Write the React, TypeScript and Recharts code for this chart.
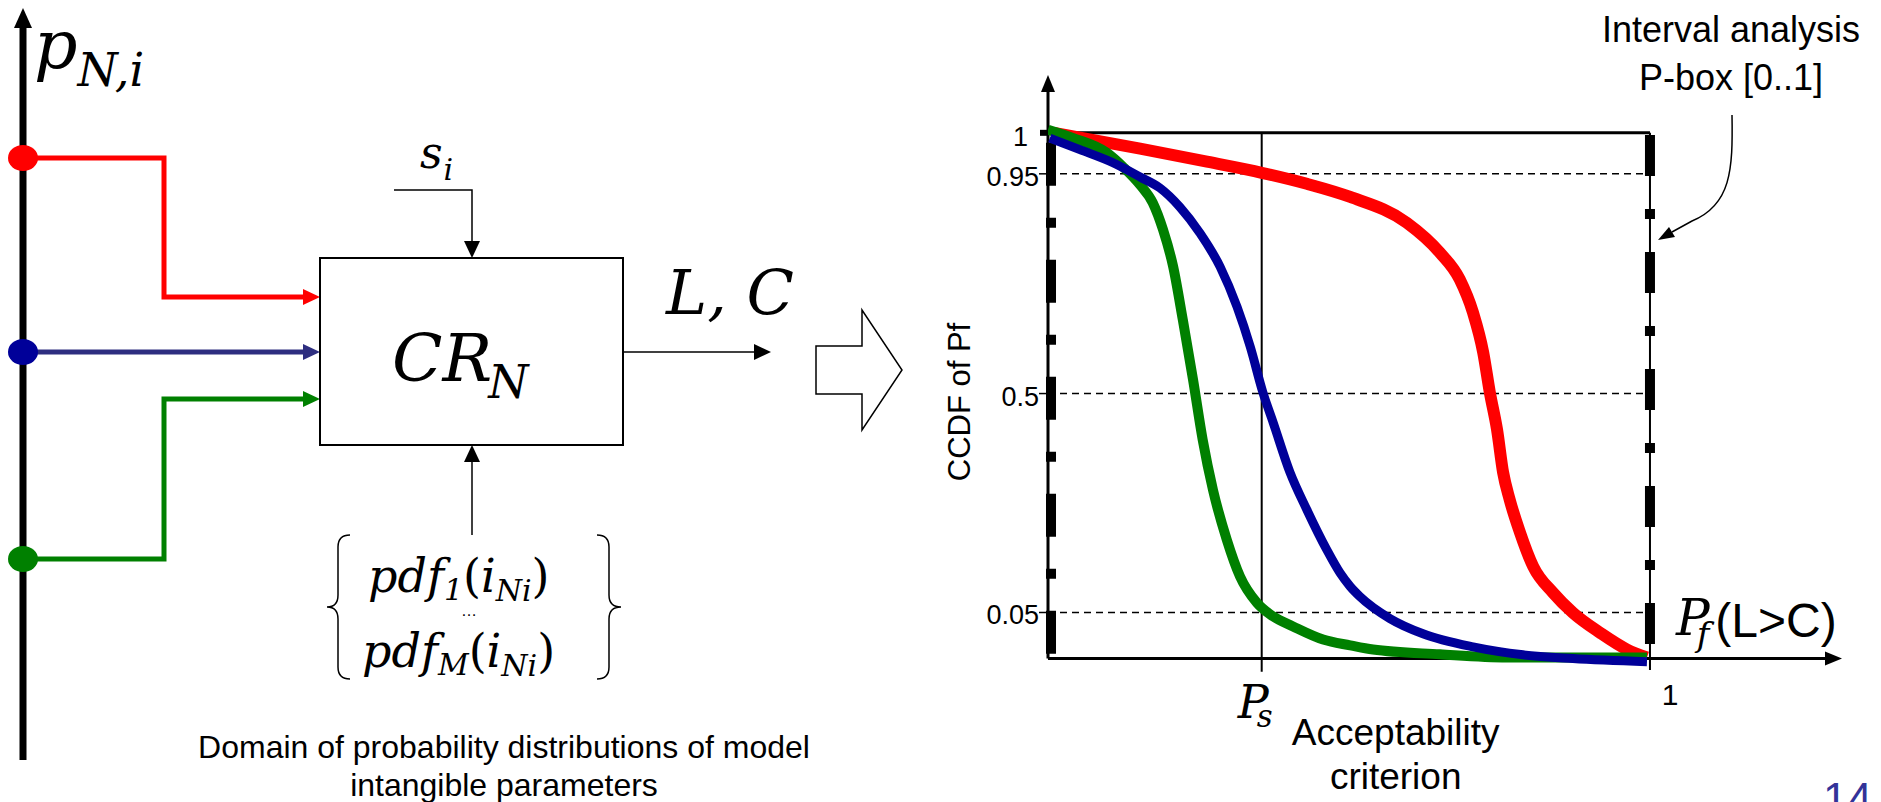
import { LineChart, Line, XAxis, YAxis, ReferenceLine, ReferenceDot } from 'recharts';

// CCDF curves. x = Pf (0..1), y = position on the
// schematic CCDF axis (0 = x axis, 1 = top of the box)
const redCurve = [
  { x: 0.01, y: 1.0 }, { x: 0.153, y: 0.97 }, { x: 0.264, y: 0.945 }, { x: 0.355, y: 0.924 },
  { x: 0.43, y: 0.903 }, { x: 0.502, y: 0.878 }, { x: 0.596, y: 0.829 }, { x: 0.651, y: 0.772 },
  { x: 0.684, y: 0.721 }, { x: 0.706, y: 0.658 }, { x: 0.723, y: 0.582 }, { x: 0.734, y: 0.506 },
  { x: 0.746, y: 0.435 }, { x: 0.756, y: 0.354 }, { x: 0.767, y: 0.302 }, { x: 0.784, y: 0.24 },
  { x: 0.806, y: 0.175 }, { x: 0.839, y: 0.125 }, { x: 0.872, y: 0.087 }, { x: 0.917, y: 0.049 },
  { x: 0.962, y: 0.017 }, { x: 0.995, y: 0.002 },
];

const greenCurve = [
  { x: 0.0, y: 1.006 }, { x: 0.042, y: 0.99 }, { x: 0.098, y: 0.962 }, { x: 0.125, y: 0.935 },
  { x: 0.153, y: 0.901 }, { x: 0.174, y: 0.867 }, { x: 0.191, y: 0.816 }, { x: 0.208, y: 0.745 },
  { x: 0.224, y: 0.644 }, { x: 0.241, y: 0.53 }, { x: 0.257, y: 0.416 }, { x: 0.274, y: 0.321 },
  { x: 0.297, y: 0.226 }, { x: 0.319, y: 0.156 }, { x: 0.347, y: 0.106 }, { x: 0.374, y: 0.08 },
  { x: 0.407, y: 0.061 }, { x: 0.457, y: 0.036 }, { x: 0.502, y: 0.025 }, { x: 0.54, y: 0.017 },
  { x: 0.651, y: 0.008 }, { x: 0.762, y: 0.002 }, { x: 0.872, y: 0.002 }, { x: 0.995, y: 0.002 },
];

const blueCurve = [
  { x: 0.003, y: 0.99 }, { x: 0.053, y: 0.968 }, { x: 0.108, y: 0.943 }, { x: 0.153, y: 0.916 },
  { x: 0.186, y: 0.895 }, { x: 0.219, y: 0.859 }, { x: 0.252, y: 0.81 }, { x: 0.286, y: 0.745 },
  { x: 0.314, y: 0.669 }, { x: 0.336, y: 0.593 }, { x: 0.357, y: 0.506 }, { x: 0.374, y: 0.449 },
  { x: 0.402, y: 0.354 }, { x: 0.43, y: 0.283 }, { x: 0.463, y: 0.207 }, { x: 0.485, y: 0.163 },
  { x: 0.502, y: 0.137 }, { x: 0.518, y: 0.118 }, { x: 0.568, y: 0.076 }, { x: 0.623, y: 0.047 },
  { x: 0.706, y: 0.022 }, { x: 0.789, y: 0.007 }, { x: 0.872, y: 0.0 }, { x: 0.995, y: -0.006 },
];

// y axis ticks (positions on the schematic axis) and their labels
const yTickPos = [0.0875, 0.504, 0.922, 1];
const yTickLabels = ['0.05', '0.5', '0.95', '1'];
const guideLevels = [0.0875, 0.504, 0.922];

const psValue = 0.355;
const xTicks = [psValue, 1];

const X_MAX = 1.319;
const Y_MAX = 1.11;
const Y_MIN = -0.02;

const SANS = '"Liberation Sans", Arial, sans-serif';
const MATH = '"DejaVu Serif", serif';

function YTick({ x, y, payload }: any) {
  const idx = yTickPos.findIndex((v) => Math.abs(v - payload.value) < 1e-6);
  const label = yTickLabels[idx];
  if (payload.value === 1) {
    return (
      <g>
        <rect x={x - 8} y={y - 3} width={8} height={6} fill="#000" />
        <text x={x - 20} y={y + 4} textAnchor="end" dominantBaseline="central" fontFamily={SANS} fontSize={27} fill="#000">
          {label}
        </text>
      </g>
    );
  }
  return (
    <g>
      <line x1={x - 9} x2={x} y1={y} y2={y} stroke="#000" strokeWidth={1.5} />
      <text x={x - 9} y={y + 3} textAnchor="end" dominantBaseline="central" fontFamily={SANS} fontSize={27} fill="#000">
        {label}
      </text>
    </g>
  );
}

function XTick({ x, y, payload }: any) {
  if (payload.value === 1) {
    return (
      <text x={x + 20} y={y + 36} textAnchor="middle" fontFamily={SANS} fontSize={30} fill="#000">1</text>
    );
  }
  return (
    <g>
      <text x={x - 24} y={y + 49} fontFamily={MATH} fontStyle="italic" fontSize={46} fill="#000">
        P<tspan fontSize={31} dx={-12} dy={9}>s</tspan>
      </text>
      <text x={x + 134} y={y + 76} textAnchor="middle" fontFamily={SANS} fontSize={37} fill="#000">Acceptability</text>
      <text x={x + 134} y={y + 120} textAnchor="middle" fontFamily={SANS} fontSize={37} fill="#000">criterion</text>
    </g>
  );
}

function Diagram() {
  return (
    <svg width={1881} height={802} style={{ position: 'absolute', left: 0, top: 0 }}>
      {/* p_N,i axis */}
      <line x1={23} y1={24} x2={23} y2={760} stroke="#000" strokeWidth={7} />
      <polygon points="23,8 14,28 32,28" fill="#000" />
      <text x={34} y={68} fontFamily={MATH} fontStyle="italic" fontSize={68}>
        p<tspan fontSize={46} dy={18}>N,i</tspan>
      </text>

      {/* inputs */}
      <polyline points="23,158 164,158 164,297 305,297" fill="none" stroke="#ff0000" strokeWidth={5} />
      <polygon points="320,297 303,289 303,305" fill="#ff0000" />
      <polyline points="23,352 305,352" fill="none" stroke="#2e2e80" strokeWidth={5} />
      <polygon points="320,352 303,344 303,360" fill="#2e2e80" />
      <polyline points="23,559 164,559 164,399 305,399" fill="none" stroke="#008000" strokeWidth={5} />
      <polygon points="320,399 303,391 303,407" fill="#008000" />
      <ellipse cx={23} cy={158} rx={15} ry={13} fill="#ff0000" />
      <ellipse cx={23} cy={352} rx={15} ry={13} fill="#000099" />
      <ellipse cx={23} cy={559} rx={15} ry={13} fill="#008000" />

      {/* model block */}
      <rect x={320} y={258} width={303} height={187} fill="none" stroke="#000" strokeWidth={2} />
      <text x={392} y={381} fontFamily={MATH} fontStyle="italic" fontSize={66}>
        CR<tspan fontSize={46} dx={-4} dy={17}>N</tspan>
      </text>

      <text x={420} y={168} fontFamily={MATH} fontStyle="italic" fontSize={44}>
        s<tspan fontSize={30} dx={1} dy={12}>i</tspan>
      </text>
      <polyline points="394,190 472,190 472,244" fill="none" stroke="#000" strokeWidth={1.5} />
      <polygon points="472,258 464,241 480,241" fill="#000" />

      <line x1={472} y1={535} x2={472} y2={460} stroke="#000" strokeWidth={1.5} />
      <polygon points="472,445 464,462 480,462" fill="#000" />

      <line x1={623} y1={352} x2={757} y2={352} stroke="#000" strokeWidth={1.5} />
      <polygon points="771,352 754,344 754,360" fill="#000" />
      <text x={666} y={314} fontFamily={MATH} fontStyle="italic" fontSize={62}>L, C</text>

      {/* distribution set */}
      <path d="M350 535 Q338 535 338 547 V595 Q338 607 327 607 Q338 607 338 619 V667 Q338 679 350 679" fill="none" stroke="#000" strokeWidth={1.5} />
      <path d="M597 535 Q609 535 609 547 V595 Q609 607 621 607 Q609 607 609 619 V667 Q609 679 597 679" fill="none" stroke="#000" strokeWidth={1.5} />
      <text x={368} y={592} fontFamily={MATH} fontStyle="italic" fontSize={46}>
        pdf<tspan fontSize={30} dy={8}>1</tspan>
        <tspan dy={-8} fontStyle="normal">(</tspan>i<tspan fontSize={30} dy={9}>Ni</tspan>
        <tspan dy={-9} fontStyle="normal">)</tspan>
      </text>
      <text x={469} y={616} textAnchor="middle" fontFamily={SANS} fontSize={16}>…</text>
      <text x={362} y={667} fontFamily={MATH} fontStyle="italic" fontSize={46}>
        pdf<tspan fontSize={30} dy={8}>M</tspan>
        <tspan dy={-8} fontStyle="normal">(</tspan>i<tspan fontSize={30} dy={9}>Ni</tspan>
        <tspan dy={-9} fontStyle="normal">)</tspan>
      </text>
      <text x={504} y={758} textAnchor="middle" fontFamily={SANS} fontSize={32}>Domain of probability distributions of model</text>
      <text x={504} y={796} textAnchor="middle" fontFamily={SANS} fontSize={32}>intangible parameters</text>

      {/* hollow arrow between the two panels */}
      <path d="M816 346 H862 V310 L902 370 L862 430 V394 H816 Z" fill="#fff" stroke="#000" strokeWidth={1.5} />

      {/* chart annotations */}
      <text x={970} y={402} transform="rotate(-90 970 402)" textAnchor="middle" fontFamily={SANS} fontSize={31}>CCDF of Pf</text>
      <text x={1731} y={42} textAnchor="middle" fontFamily={SANS} fontSize={36}>Interval analysis</text>
      <text x={1731} y={90} textAnchor="middle" fontFamily={SANS} fontSize={36}>P-box [0..1]</text>
      <path d="M1732 115 C1733 170 1731 205 1692 221 L1672 232" fill="none" stroke="#000" strokeWidth={1.5} />
      <polygon points="1658,240 1675,237 1669,227" fill="#000" />
      <text x={1676} y={635} fontFamily={MATH} fontStyle="italic" fontSize={50}>
        P<tspan fontSize={34} dx={-13} dy={11}>f</tspan>
        <tspan fontFamily={SANS} fontStyle="normal" fontSize={48} dx={6} dy={-9}>(L&gt;C)</tspan>
      </text>
      <text x={1823} y={814} fontFamily={SANS} fontSize={44} fill="#333399">14</text>
    </svg>
  );
}

const arrowRight = (p: any) => (
  <polygon points={`${p.cx},${p.cy} ${p.cx - 17},${p.cy - 7} ${p.cx - 17},${p.cy + 7}`} fill="#000" />
);
const arrowUp = (p: any) => (
  <polygon points={`${p.cx},${p.cy} ${p.cx - 7},${p.cy + 17} ${p.cx + 7},${p.cy + 17}`} fill="#000" />
);

export default function App() {
  return (
    <div style={{ position: 'absolute', left: 0, top: 0, width: 1881, height: 802, background: '#fff', overflow: 'hidden' }}>
      <Diagram />
      <div style={{ position: 'absolute', left: 900, top: 0 }}>
        <LineChart width={981} height={802} margin={{ top: 75, right: 39, bottom: 103, left: 88 }}>
          <XAxis
            type="number"
            dataKey="x"
            domain={[0, X_MAX]}
            allowDataOverflow
            ticks={xTicks}
            axisLine={false}
            tickLine={false}
            tickSize={0}
            tickMargin={0}
            height={30}
            tick={XTick}
          />
          <YAxis
            type="number"
            domain={[Y_MIN, Y_MAX]}
            allowDataOverflow
            ticks={yTickPos}
            axisLine={false}
            tickLine={false}
            tickSize={0}
            tickMargin={0}
            width={60}
            tick={YTick}
          />

          {guideLevels.map((lv) => (
            <ReferenceLine key={lv} segment={[{ x: 0, y: lv }, { x: 1, y: lv }]} stroke="#000" strokeWidth={1.5} strokeDasharray="7 5" ifOverflow="visible" />
          ))}
          <ReferenceLine segment={[{ x: 0, y: 1 }, { x: 1, y: 1 }]} stroke="#000" strokeWidth={3} ifOverflow="visible" />
          <ReferenceLine segment={[{ x: psValue, y: 1 }, { x: psValue, y: -0.025 }]} stroke="#000" strokeWidth={2} ifOverflow="visible" />
          <ReferenceLine segment={[{ x: 1, y: 1 }, { x: 1, y: -0.022 }]} stroke="#000" strokeWidth={2} ifOverflow="visible" />
          <ReferenceLine segment={[{ x: 0.005, y: 0.981 }, { x: 0.005, y: 0.008 }]} stroke="#000" strokeWidth={10} strokeDasharray="43 32 10 32" ifOverflow="visible" />
          <ReferenceLine segment={[{ x: 1, y: 0.996 }, { x: 1, y: 0.027 }]} stroke="#000" strokeWidth={10} strokeDasharray="41 33 10 33" ifOverflow="visible" />
          <ReferenceLine segment={[{ x: 0, y: 0 }, { x: 0, y: Y_MAX - 0.02 }]} stroke="#000" strokeWidth={3} ifOverflow="visible" />
          <ReferenceLine segment={[{ x: 0, y: 0 }, { x: X_MAX - 0.02, y: 0 }]} stroke="#000" strokeWidth={3} ifOverflow="visible" />
          <ReferenceDot x={X_MAX} y={0} r={0} ifOverflow="visible" shape={arrowRight} />
          <ReferenceDot x={0} y={Y_MAX} r={0} ifOverflow="visible" shape={arrowUp} />

          <Line data={redCurve} dataKey="y" type="monotone" stroke="#ff0000" strokeWidth={12} dot={false} isAnimationActive={false} />
          <Line data={greenCurve} dataKey="y" type="monotone" stroke="#008000" strokeWidth={10} dot={false} isAnimationActive={false} />
          <Line data={blueCurve} dataKey="y" type="monotone" stroke="#000099" strokeWidth={9} dot={false} isAnimationActive={false} />
        </LineChart>
      </div>
    </div>
  );
}
